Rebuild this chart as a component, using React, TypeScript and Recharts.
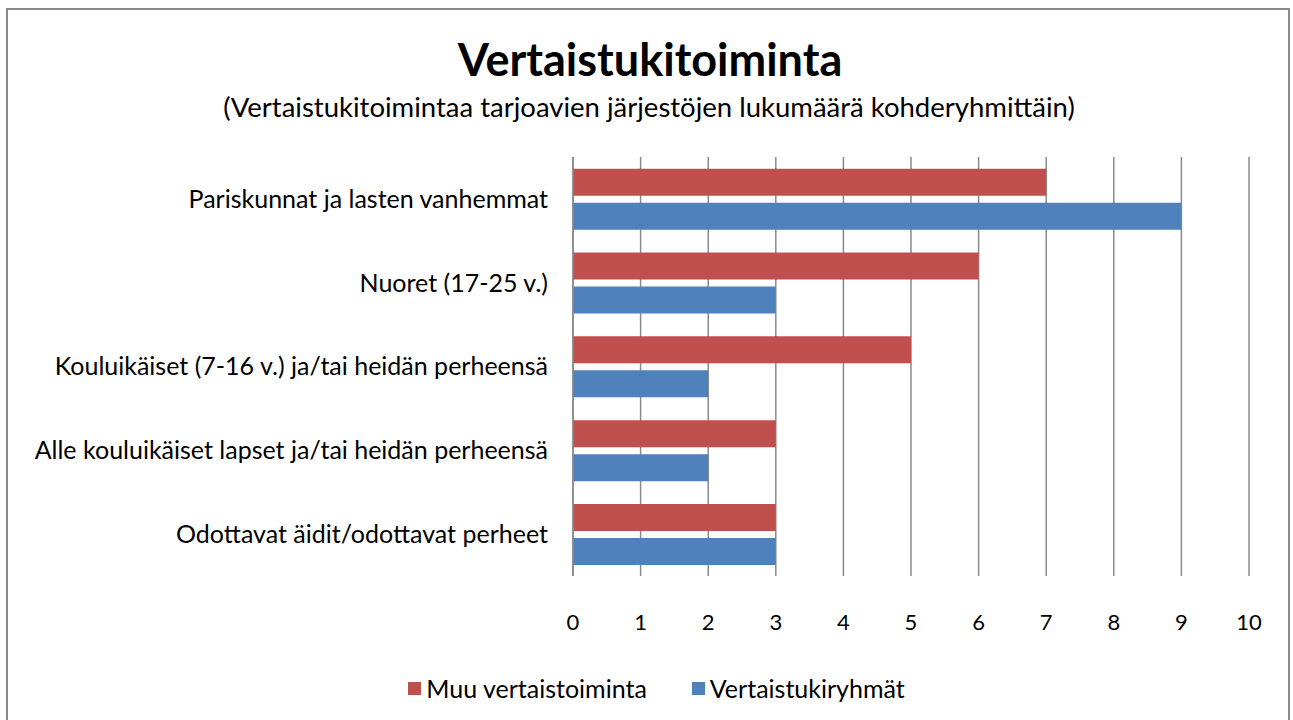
import { Bar, BarChart, CartesianGrid, Legend, XAxis, YAxis } from 'recharts';

const categories = [
  'Pariskunnat ja lasten vanhemmat',
  'Nuoret (17-25 v.)',
  'Kouluikäiset (7-16 v.) ja/tai heidän perheensä',
  'Alle kouluikäiset lapset ja/tai heidän perheensä',
  'Odottavat äidit/odottavat perheet',
];
const muuVertaistoiminta = [7, 6, 5, 3, 3];
const vertaistukiryhmat = [9, 3, 2, 2, 3];
const xTicks = [0, 1, 2, 3, 4, 5, 6, 7, 8, 9, 10];

const data = categories.map((name, i) => ({
  name,
  muu: muuVertaistoiminta[i],
  ryhmat: vertaistukiryhmat[i],
}));

const font = 'Lato, "Open Sans", sans-serif';

const renderLegend = (props: any) => {
  const { payload } = props;
  return (
    <div style={{ height: 30, paddingLeft: 64, display: 'flex', justifyContent: 'center', alignItems: 'center', fontSize: 25, color: '#000', fontFamily: font }}>
      {payload.map((entry: any, i: number) => (
        <div key={i} style={{ display: 'flex', alignItems: 'center', marginRight: i === 0 ? 45 : 0 }}>
          <span style={{ display: 'inline-block', width: 13, height: 13, background: entry.color, marginRight: 5 }} />
          <span>{entry.value}</span>
        </div>
      ))}
    </div>
  );
};

const App = () => {
  return (
    <div style={{ position: 'absolute', left: 0, top: 0, width: 1293, height: 720, background: '#fff', fontFamily: font }}>
      <div
        style={{
          position: 'absolute',
          left: 6,
          top: 8,
          width: 1284,
          height: 720,
          border: '2px solid #8a8a8a',
          boxSizing: 'border-box',
        }}
      />
      <div style={{ position: 'absolute', left: 0, width: 1300, top: 32, textAlign: 'center', fontSize: 45, fontWeight: 'bold' }}>
        Vertaistukitoiminta
      </div>
      <div style={{ position: 'absolute', left: 0, width: 1298, top: 90, textAlign: 'center', fontSize: 27.5 }}>
        (Vertaistukitoimintaa tarjoavien järjestöjen lukumäärä kohderyhmittäin)
      </div>
      <BarChart
        width={1293}
        height={720}
        data={data}
        layout="vertical"
        barCategoryGap="14%"
        barGap={7}
        margin={{ top: 157, right: 44, left: 0, bottom: 17 }}
        style={{ fontFamily: font }}
      >
        <CartesianGrid horizontal={false} stroke="#8a8a8a" strokeWidth={1.5} />
        <XAxis
          type="number"
          domain={[0, 10]}
          ticks={xTicks}
          axisLine={false}
          tickLine={false}
          tickSize={0}
          tickMargin={38}
          height={97}
          tick={{ fill: '#000', fontSize: 22 }}
        />
        <YAxis
          type="category"
          dataKey="name"
          width={573}
          axisLine={{ stroke: '#8a8a8a', strokeWidth: 1.5 }}
          tickLine={false}
          tickSize={0}
          tickMargin={25}
          tick={{ fill: '#000', fontSize: 25 }}
          interval={0}
        />
        <Legend verticalAlign="bottom" height={30} content={renderLegend} />
        <Bar dataKey="muu" name="Muu vertaistoiminta" fill="#C0504D" isAnimationActive={false} />
        <Bar dataKey="ryhmat" name="Vertaistukiryhmät" fill="#4F81BD" isAnimationActive={false} />
      </BarChart>
    </div>
  );
};

export default App;
